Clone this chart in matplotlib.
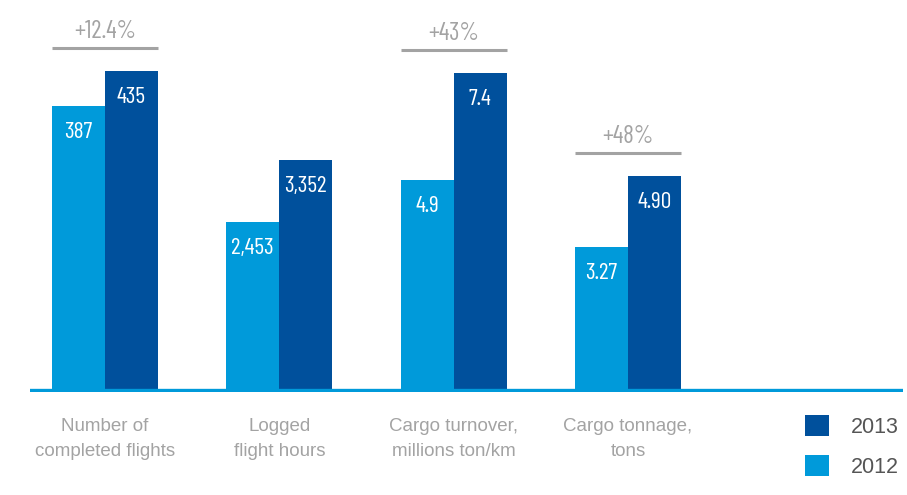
import matplotlib
matplotlib.use("Agg")
import matplotlib.pyplot as plt
from matplotlib.patches import Patch

# data
categories = ["Number of\ncompleted flights", "Logged\nflight hours",
              "Cargo turnover,\nmillions ton/km", "Cargo tonnage,\ntons"]
values_2012 = [387, 2453, 4.9, 3.27]
values_2013 = [435, 3352, 7.4, 4.90]
labels_2012 = ["387", "2,453", "4.9", "3.27"]
labels_2013 = ["435", "3,352", "7.4", "4.90"]
growth = ["+12.4%", None, "+43%", "+48%"]
# each group has its own scale: value that would reach the top of the plot
full_scale = [532, 5684, 9.1, 8.93]

light = "#009ADA"
dark = "#00509C"
gray = "#A3A3A3"

plt.rcParams["font.family"] = ["Liberation Sans", "DejaVu Sans"]
narrow = ["Barlow Condensed", "DejaVu Sans"]

fig = plt.figure(figsize=(9.07, 4.95), dpi=100)
ax = fig.add_axes([30 / 907, 1 - 392 / 495, 873 / 907, 392 / 495])

w = 0.304
x = list(range(len(categories)))
h12 = [v / s for v, s in zip(values_2012, full_scale)]
h13 = [v / s for v, s in zip(values_2013, full_scale)]

ax.bar([i - w / 2 for i in x], h12, width=w, color=light, zorder=2)
ax.bar([i + w / 2 for i in x], h13, width=w, color=dark, zorder=2)

for i in x:
    ax.annotate(labels_2012[i], (i - w / 2, h12[i]), xytext=(0, -19),
                textcoords="offset points", ha="center", va="center",
                color="white", fontsize=17, family=narrow)
    ax.annotate(labels_2013[i], (i + w / 2, h13[i]), xytext=(0, -19),
                textcoords="offset points", ha="center", va="center",
                color="white", fontsize=17, family=narrow)
    if growth[i]:
        top = max(h12[i], h13[i])
        line_y = top + 23 / 390
        ax.plot([i - w, i + w], [line_y, line_y], color=gray, lw=2.2,
                solid_capstyle="butt", zorder=3)
        ax.annotate(growth[i], (i, line_y), xytext=(0, 12),
                    textcoords="offset points", ha="center", va="center",
                    color=gray, fontsize=18, family=narrow)

ax.set_xlim(-0.43, 4.578)
ax.set_ylim(-0.004, 1)
ax.axhline(0, color=light, lw=2.4, zorder=4)
for s in ax.spines.values():
    s.set_visible(False)
ax.set_yticks([])
ax.set_xticks(x)
ax.set_xticklabels(categories, color=gray, fontsize=13.5, linespacing=1.55)
ax.tick_params(axis="x", length=0, pad=19)

handles = [Patch(facecolor=dark, label="2013"), Patch(facecolor=light, label="2012")]
leg = fig.legend(handles=handles, loc="upper left",
                 bbox_to_anchor=(805 / 907, 1 - 415 / 495), frameon=False,
                 fontsize=15.5, handlelength=1.1, handleheight=1.1,
                 handletextpad=1.05, labelspacing=0.8, borderpad=0,
                 borderaxespad=0)
for t in leg.get_texts():
    t.set_color("#555555")

fig.savefig("out.png", dpi=100)
